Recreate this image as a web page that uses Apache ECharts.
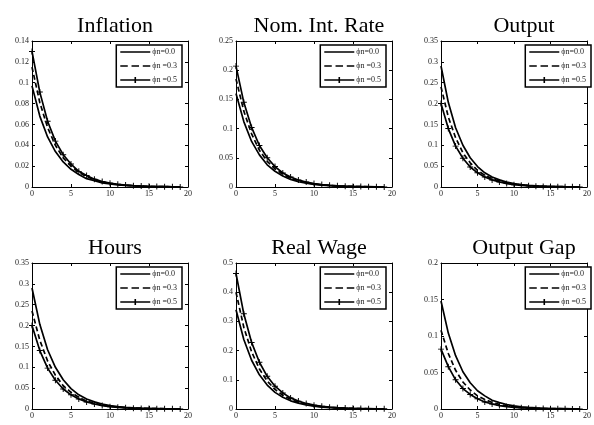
<!DOCTYPE html>
<html>
<head>
<meta charset="utf-8">
<script src="https://cdn.jsdelivr.net/npm/echarts@6/dist/echarts.min.js"></script>
<style>
  html, body { margin: 0; padding: 0; background: #fff; }
  #main { width: 594px; height: 425px; }
</style>
</head>
<body>
<div id="main"></div>
<script>
  // 期数 0..19
  const steps = [0, 1, 2, 3, 4, 5, 6, 7, 8, 9, 10, 11, 12, 13, 14, 15, 16, 17, 18, 19];
  const seriesNames = ['ϕn=0.0', 'ϕn =0.3', 'ϕn =0.5'];
  const titles = ['Inflation', 'Nom. Int. Rate', 'Output', 'Hours', 'Real Wage', 'Output Gap'];
  const yMaxList = [0.14, 0.25, 0.35, 0.35, 0.5, 0.2];
  const yStepList = [0.02, 0.05, 0.05, 0.05, 0.1, 0.05];

  const inflation0 = [0.097, 0.068, 0.048, 0.034, 0.024, 0.017, 0.012, 0.008, 0.006, 0.004, 0.003, 0.002, 0.0015, 0.001, 0.0007, 0.0005, 0.0004, 0.0003, 0.0002, 0.0001];
  const inflation3 = [0.115, 0.081, 0.057, 0.040, 0.028, 0.020, 0.014, 0.010, 0.007, 0.005, 0.0034, 0.0024, 0.0017, 0.0012, 0.0008, 0.0006, 0.0004, 0.0003, 0.0002, 0.0001];
  const inflation5 = [0.130, 0.091, 0.063, 0.044, 0.031, 0.022, 0.015, 0.011, 0.0075, 0.0053, 0.0037, 0.0026, 0.0018, 0.0013, 0.0009, 0.0006, 0.0004, 0.0003, 0.0002, 0.0001];

  const rate0 = [0.160, 0.112, 0.078, 0.055, 0.038, 0.027, 0.019, 0.013, 0.009, 0.0065, 0.0045, 0.0032, 0.0022, 0.0015, 0.0011, 0.0008, 0.0005, 0.0004, 0.0003, 0.0002];
  const rate3 = [0.185, 0.130, 0.091, 0.063, 0.044, 0.031, 0.022, 0.015, 0.011, 0.0075, 0.0052, 0.0037, 0.0026, 0.0018, 0.0013, 0.0009, 0.0006, 0.0004, 0.0003, 0.0002];
  const rate5 = [0.207, 0.145, 0.102, 0.071, 0.050, 0.035, 0.024, 0.017, 0.012, 0.0084, 0.0059, 0.0041, 0.0029, 0.002, 0.0014, 0.001, 0.0007, 0.0005, 0.0003, 0.0002];

  const output0 = [0.290, 0.203, 0.142, 0.100, 0.070, 0.049, 0.034, 0.024, 0.017, 0.012, 0.0082, 0.0058, 0.004, 0.0028, 0.002, 0.0014, 0.001, 0.0007, 0.0005, 0.0003];
  const output3 = [0.240, 0.168, 0.118, 0.082, 0.058, 0.040, 0.028, 0.020, 0.014, 0.0097, 0.0068, 0.0047, 0.0033, 0.0023, 0.0016, 0.0011, 0.0008, 0.0006, 0.0004, 0.0003];
  const output5 = [0.200, 0.140, 0.098, 0.069, 0.048, 0.034, 0.024, 0.017, 0.012, 0.0081, 0.0056, 0.004, 0.0028, 0.0019, 0.0014, 0.001, 0.0007, 0.0005, 0.0003, 0.0002];

  const hours0 = [0.290, 0.203, 0.142, 0.100, 0.070, 0.049, 0.034, 0.024, 0.017, 0.012, 0.0082, 0.0058, 0.004, 0.0028, 0.002, 0.0014, 0.001, 0.0007, 0.0005, 0.0003];
  const hours3 = [0.235, 0.165, 0.115, 0.081, 0.056, 0.040, 0.028, 0.019, 0.014, 0.0095, 0.0066, 0.0046, 0.0032, 0.0023, 0.0016, 0.0011, 0.0008, 0.0006, 0.0004, 0.0003];
  const hours5 = [0.200, 0.140, 0.098, 0.069, 0.048, 0.034, 0.024, 0.017, 0.012, 0.0081, 0.0056, 0.004, 0.0028, 0.0019, 0.0014, 0.001, 0.0007, 0.0005, 0.0003, 0.0002];

  const wage0 = [0.340, 0.238, 0.167, 0.117, 0.082, 0.057, 0.040, 0.028, 0.020, 0.014, 0.0096, 0.0067, 0.0047, 0.0033, 0.0023, 0.0016, 0.0011, 0.0008, 0.0006, 0.0004];
  const wage3 = [0.400, 0.280, 0.196, 0.137, 0.096, 0.067, 0.047, 0.033, 0.023, 0.016, 0.011, 0.0079, 0.0055, 0.0039, 0.0027, 0.0019, 0.0013, 0.0009, 0.0006, 0.0004];
  const wage5 = [0.464, 0.326, 0.228, 0.160, 0.112, 0.078, 0.055, 0.038, 0.027, 0.019, 0.013, 0.0092, 0.0064, 0.0045, 0.0031, 0.0022, 0.0015, 0.0011, 0.0008, 0.0005];

  const gap0 = [0.148, 0.104, 0.073, 0.051, 0.036, 0.025, 0.018, 0.012, 0.0087, 0.0061, 0.0043, 0.003, 0.0021, 0.0015, 0.001, 0.0007, 0.0005, 0.0004, 0.0003, 0.0002];
  const gap3 = [0.108, 0.076, 0.053, 0.037, 0.026, 0.018, 0.013, 0.009, 0.0063, 0.0044, 0.0031, 0.0022, 0.0015, 0.0011, 0.0008, 0.0005, 0.0004, 0.0003, 0.0002, 0.0001];
  const gap5 = [0.082, 0.058, 0.040, 0.028, 0.020, 0.014, 0.0097, 0.0068, 0.0047, 0.0033, 0.0023, 0.0016, 0.0011, 0.0008, 0.0006, 0.0004, 0.0003, 0.0002, 0.0001, 0.0001];

  const panelData = [
    [inflation0, inflation3, inflation5],
    [rate0, rate3, rate5],
    [output0, output3, output5],
    [hours0, hours3, hours5],
    [wage0, wage3, wage5],
    [gap0, gap3, gap5]
  ];

  const gridLefts = [32, 236, 441];
  const gridTops = [41, 263];
  const gridW = 156;
  const gridH = 146;
  const serifFont = '"Liberation Serif", "DejaVu Serif", serif';
  const plusMark = 'path://M4.2,0H5.8V4.2H10V5.8H5.8V10H4.2V5.8H0V4.2H4.2Z';

  // 图例图标 (30x6 框, 角上小点撑开包围盒)
  const boxDots = 'M0,0h0.01v0.01h-0.01Z M29.99,5.99h0.01v0.01h-0.01Z ';
  const legendIcons = [
    'path://' + boxDots + 'M0,2.2H30V3.8H0Z',
    'path://' + boxDots + 'M0,2.2H7.5V3.8H0Z M11.25,2.2H18.75V3.8H11.25Z M22.5,2.2H30V3.8H22.5Z',
    'path://' + boxDots + 'M0,2.2H14.2V0H15.8V2.2H30V3.8H15.8V6H14.2V3.8H0Z'
  ];

  let grids = [], xAxes = [], yAxes = [], legends = [], titleList = [], seriesList = [];

  panelData.forEach((lines, p) => {
    let left = gridLefts[p % 3];
    let top = gridTops[Math.floor(p / 3)];
    grids.push({left: left, top: top, width: gridW, height: gridH, containLabel: false});

    titleList.push({
      text: titles[p],
      left: left + gridW / 2,
      top: top - 31,
      textAlign: 'center',
      textStyle: {fontFamily: serifFont, fontSize: 22, fontWeight: 'normal', color: '#000'}
    });

    let axisBase = {
      axisLine: {show: true, onZero: false, lineStyle: {color: '#000', width: 1}},
      axisTick: {show: true, inside: true, length: 3, lineStyle: {color: '#000'}},
      splitLine: {show: false}
    };
    // 下/上 x 轴
    xAxes.push(Object.assign({}, axisBase, {
      type: 'value', gridIndex: p, min: 0, max: 20, interval: 5, position: 'bottom',
      axisLabel: {fontFamily: serifFont, fontSize: 8, color: '#222', margin: 3}
    }));
    xAxes.push(Object.assign({}, axisBase, {
      type: 'value', gridIndex: p, min: 0, max: 20, interval: 5, position: 'top',
      axisLabel: {show: false}
    }));
    // 左/右 y 轴
    yAxes.push(Object.assign({}, axisBase, {
      type: 'value', gridIndex: p, min: 0, max: yMaxList[p], interval: yStepList[p], position: 'left',
      axisLabel: {fontFamily: serifFont, fontSize: 8, color: '#222', margin: 3}
    }));
    yAxes.push(Object.assign({}, axisBase, {
      type: 'value', gridIndex: p, min: 0, max: yMaxList[p], interval: yStepList[p], position: 'right',
      axisLabel: {show: false}
    }));

    legends.push({
      data: seriesNames.map((n, k) => ({name: n, icon: legendIcons[k]})),
      orient: 'vertical',
      right: Math.max(594 - (left + gridW) + 6, 1),
      top: top + 4,
      itemWidth: 30,
      itemHeight: 6,
      itemGap: 6,
      padding: [3, 5, 3, 4],
      borderColor: '#000',
      borderWidth: 1.5,
      backgroundColor: '#fff',
      selectedMode: false,
      itemStyle: {color: '#000', borderWidth: 0},
      textStyle: {fontFamily: serifFont, fontSize: 8, color: '#222', padding: [0, 0, 0, -3]}
    });

    lines.forEach((vals, k) => {
      seriesList.push({
        name: seriesNames[k],
        type: 'line',
        xAxisIndex: p * 2,
        yAxisIndex: p * 2,
        data: steps.map((t, i) => [t, vals[i]]),
        symbol: k === 2 ? plusMark : 'none',
        symbolSize: 6,
        showSymbol: k === 2,
        itemStyle: {color: '#000'},
        lineStyle: {color: '#000', width: 1.7, type: k === 1 ? [5, 3] : 'solid'},
        z: 3 - k
      });
    });
  });

  let chart = echarts.init(document.getElementById('main'));
  chart.setOption({
    animation: false,
    backgroundColor: '#fff',
    title: titleList,
    grid: grids,
    xAxis: xAxes,
    yAxis: yAxes,
    legend: legends,
    series: seriesList
  });
</script>
</body>
</html>
